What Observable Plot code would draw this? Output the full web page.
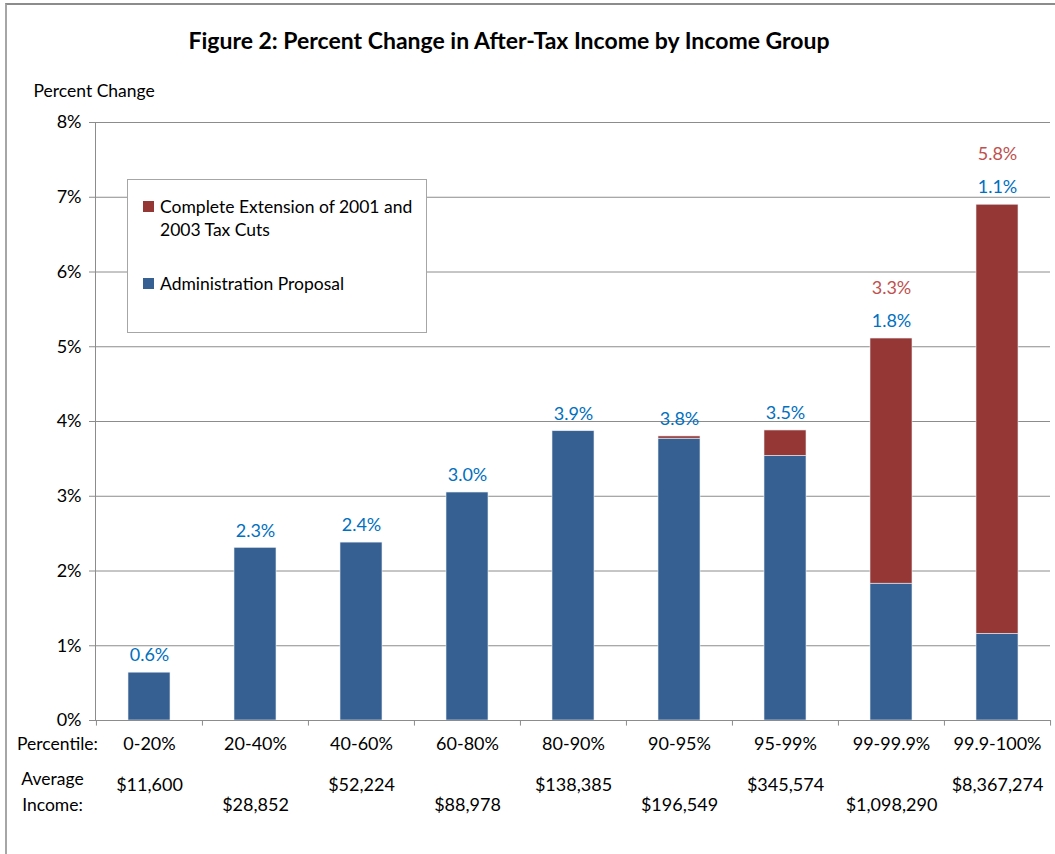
<!DOCTYPE html>
<html>
<head>
<meta charset="utf-8">
<script src="https://cdn.jsdelivr.net/npm/d3@7"></script>
<script src="https://cdn.jsdelivr.net/npm/@observablehq/plot@0.6"></script>
<style>
  body { margin: 0; background: #fff; font-family: Lato, "Open Sans", sans-serif; }
  #wrap { position: relative; width: 1055px; height: 854px; }
  #border { position: absolute; left: 5px; top: 3px; right: 0; bottom: 0; border-top: 2px solid #8c8c8c; border-left: 2px solid #a6a6a6; pointer-events: none; }
  #legend { position: absolute; left: 127px; top: 179px; width: 298px; height: 152px; border: 1px solid #a6a6a6; background: #fff; font-size: 17.5px; color: #000; }
  .item { position: absolute; left: 15px; display: flex; align-items: flex-start; line-height: 23px; }
  .sw { width: 11px; height: 11px; margin-top: 6px; margin-right: 6px; flex: none; }
</style>
</head>
<body>
<div id="wrap">
  <div id="chart"></div>
  <div id="legend"></div>
  <div id="border"></div>
</div>
<script>
// ---- Data ----
const title = "Figure 2: Percent Change in After-Tax Income by Income Group";
const categories = ["0-20%", "20-40%", "40-60%", "60-80%", "80-90%", "90-95%", "95-99%", "99-99.9%", "99.9-100%"];
const incomes = ["$11,600", "$28,852", "$52,224", "$88,978", "$138,385", "$196,549", "$345,574", "$1,098,290", "$8,367,274"];
const seriesNames = ["Complete Extension of 2001 and 2003 Tax Cuts", "Administration Proposal"];
const seriesColors = ["#953735", "#376092"];
// Administration Proposal (bottom segment)
const adminValues = [0.64, 2.31, 2.38, 3.05, 3.87, 3.77, 3.54, 1.83, 1.16];
// Additional change from complete extension (stacked on top)
const extensionValues = [0, 0, 0, 0, 0, 0.03, 0.34, 3.28, 5.74];
const adminLabels = ["0.6%", "2.3%", "2.4%", "3.0%", "3.9%", "3.8%", "3.5%", "1.8%", "1.1%"];
const extensionLabels = ["", "", "", "", "", "", "", "3.3%", "5.8%"];
const yTicks = [0, 1, 2, 3, 4, 5, 6, 7, 8];

// ---- Build tables ----
const rows = [];
categories.forEach((c, i) => {
  rows.push({category: c, series: seriesNames[1], value: adminValues[i]});
  rows.push({category: c, series: seriesNames[0], value: extensionValues[i]});
});
const totals = categories.map((c, i) => ({
  category: c,
  total: adminValues[i] + extensionValues[i],
  admin: adminLabels[i],
  ext: extensionLabels[i],
  income: incomes[i],
  idx: i
}));
const grid = "#8c8c8c";

const chart = Plot.plot({
  width: 1055,
  height: 854,
  marginLeft: 95,
  marginRight: 5,
  marginTop: 122,
  marginBottom: 134,
  style: {fontFamily: "Lato, 'Open Sans', sans-serif", fontSize: "16px", color: "#000", background: "transparent"},
  x: {type: "band", domain: categories, padding: 0, axis: null},
  y: {type: "linear", domain: [0, 8], axis: null},
  color: {domain: seriesNames, range: seriesColors},
  marks: [
    Plot.gridY(yTicks, {stroke: grid, strokeOpacity: 1}),
    Plot.axisY(yTicks, {tickFormat: d => d + "%", tickSize: 6, tickPadding: 8, stroke: grid, fill: "#000", fontSize: 18, label: null}),
    Plot.frame({anchor: "left", stroke: grid}),
    Plot.barY(rows, {x: "category", y: "value", fill: "series", insetLeft: 32, insetRight: 32, stroke: "#e8eef5", strokeWidth: 0.6}),
    Plot.ruleY([0], {stroke: grid}),
    // bottom axis tick marks at band boundaries
    Plot.ruleX(categories, {x: d => d, dx: -53.05, y1: 0, y2: -0.075, stroke: grid}),
    Plot.ruleX(categories.slice(-1), {x: d => d, dx: 53.05, y1: 0, y2: -0.075, stroke: grid}),
    // value labels
    Plot.text(totals, {x: "category", y: "total", text: "admin", dy: -17, fill: "#0070C0", fontSize: 18}),
    Plot.text(totals.filter(d => d.ext), {x: "category", y: "total", text: "ext", dy: -50, fill: "#C0504D", fontSize: 18}),
    // category labels and incomes
    Plot.text(categories, {x: d => d, frameAnchor: "bottom", dy: 29, fontSize: 18}),
    Plot.text(totals.filter(d => d.idx % 2 === 0), {x: "category", text: "income", frameAnchor: "bottom", dy: 70, fontSize: 18}),
    Plot.text(totals.filter(d => d.idx % 2 === 1), {x: "category", text: "income", frameAnchor: "bottom", dy: 90, fontSize: 18}),
    Plot.text(["Percentile:"], {frameAnchor: "bottom-left", dx: -38, dy: 29, textAnchor: "middle", fontSize: 17.5}),
    Plot.text(["Average\nIncome:"], {frameAnchor: "bottom-left", dx: -43, dy: 90, textAnchor: "middle", lineHeight: 1.45, fontSize: 17.5}),
    Plot.text(["Percent Change"], {frameAnchor: "top-left", dx: -62, dy: -38, textAnchor: "start", fontSize: 17.5}),
    Plot.text([title], {frameAnchor: "top", dx: -64, dy: -90, fontSize: 23, fontWeight: "bold"})
  ]
});
document.getElementById("chart").appendChild(chart);

// Legend (HTML box)
const legend = document.getElementById("legend");
const legendItems = [
  {name: "Complete Extension of 2001 and\n2003 Tax Cuts", color: seriesColors[0], top: 15},
  {name: seriesNames[1], color: seriesColors[1], top: 92}
];
legendItems.forEach(it => {
  const div = document.createElement("div");
  div.className = "item";
  div.style.top = it.top + "px";
  const sw = document.createElement("div");
  sw.className = "sw";
  sw.style.background = it.color;
  const tx = document.createElement("div");
  tx.style.whiteSpace = "pre";
  tx.textContent = it.name;
  div.appendChild(sw);
  div.appendChild(tx);
  legend.appendChild(div);
});
</script>
</body>
</html>
